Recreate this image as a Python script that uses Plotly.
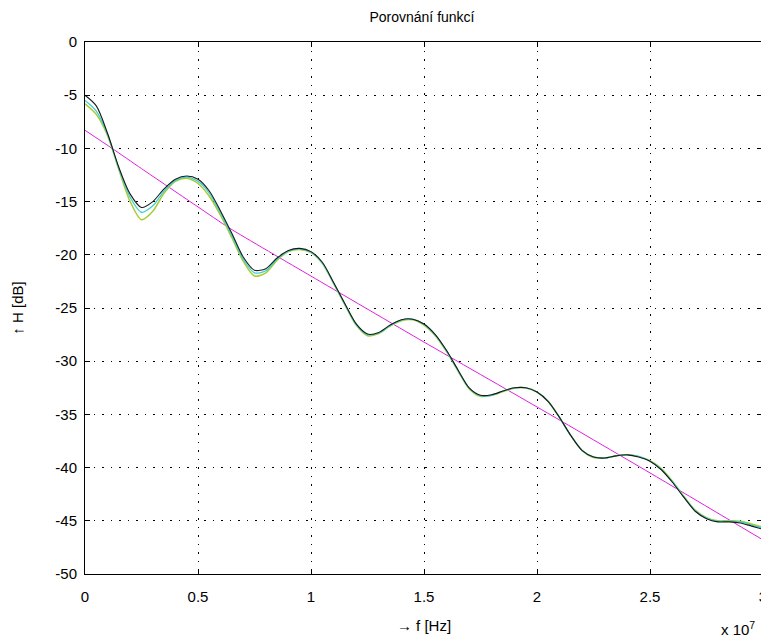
import plotly.graph_objects as go

# frequency in units of 1e7 Hz
f_units = [0.00, 0.05, 0.10, 0.15, 0.20, 0.25, 0.30, 0.35, 0.40, 0.45,
           0.50, 0.55, 0.60, 0.65, 0.70, 0.75, 0.80, 0.85, 0.90, 0.95,
           1.00, 1.05, 1.10, 1.15, 1.20, 1.25, 1.30, 1.35, 1.40, 1.45,
           1.50, 1.55, 1.60, 1.65, 1.70, 1.75, 1.80, 1.85, 1.90, 1.95,
           2.00, 2.05, 2.10, 2.15, 2.20, 2.25, 2.30, 2.35, 2.40, 2.45,
           2.50, 2.55, 2.60, 2.65, 2.70, 2.75, 2.80, 2.85, 2.90, 2.95, 3.00]

h_black = [-5.0, -6.0, -8.6, -11.8, -14.3, -15.55, -15.0, -13.8, -12.9, -12.6,
           -12.9, -14.0, -15.9, -18.0, -20.2, -21.45, -21.3, -20.3, -19.6, -19.4,
           -19.7, -20.7, -22.6, -24.6, -26.5, -27.45, -27.3, -26.6, -26.1, -26.05,
           -26.5, -27.5, -29.0, -30.8, -32.5, -33.2, -33.15, -32.8, -32.5, -32.5,
           -32.9, -33.8, -35.3, -37.0, -38.4, -39.0, -39.1, -38.9, -38.8, -39.0,
           -39.4, -40.2, -41.4, -42.8, -44.1, -44.8, -45.1, -45.1, -45.2, -45.5, -45.8]

h_green = [-5.8, -6.8, -8.8, -12.0, -15.0, -16.7, -15.9, -14.2, -13.1, -12.8,
           -13.3, -14.5, -16.3, -18.4, -20.6, -22.0, -21.7, -20.5, -19.7, -19.5,
           -19.8, -20.8, -22.7, -24.7, -26.6, -27.6, -27.4, -26.7, -26.2, -26.1,
           -26.6, -27.6, -29.1, -30.9, -32.6, -33.3, -33.2, -32.85, -32.55, -32.5,
           -32.9, -33.8, -35.3, -37.0, -38.4, -39.05, -39.1, -38.9, -38.8, -38.95,
           -39.35, -40.1, -41.3, -42.7, -44.0, -44.7, -45.0, -45.0, -45.05, -45.3, -45.6]

h_cyan = [-5.5, -6.5, -8.7, -11.9, -14.6, -16.0, -15.4, -14.0, -13.0, -12.7,
          -13.1, -14.2, -16.1, -18.2, -20.4, -21.7, -21.5, -20.4, -19.65, -19.45,
          -19.75, -20.75, -22.65, -24.65, -26.55, -27.5, -27.35, -26.65, -26.15, -26.05,
          -26.55, -27.55, -29.05, -30.85, -32.55, -33.25, -33.2, -32.8, -32.5, -32.5,
          -32.9, -33.8, -35.3, -37.0, -38.4, -39.0, -39.1, -38.9, -38.8, -38.95,
          -39.4, -40.15, -41.35, -42.75, -44.05, -44.75, -45.05, -45.05, -45.1, -45.4, -45.7]

fit_units = [0.0, 0.12, 0.25, 0.5, 0.64, 1.0, 1.5, 2.0, 2.5, 3.0]
h_fit = [-8.3, -10.0, -11.9, -15.5, -17.5, -22.0, -28.2, -34.3, -40.5, -46.8]

x_tickvals = [0, 0.5, 1, 1.5, 2, 2.5, 3]
x_ticktext = ["0", "0.5", "1", "1.5", "2", "2.5", "3"]
y_tickvals = [0, -5, -10, -15, -20, -25, -30, -35, -40, -45, -50]
y_ticktext = ["0", "-5", "-10", "-15", "-20", "-25", "-30", "-35", "-40", "-45", "-50"]

SCALE = 1e7
f_hz = [v * SCALE for v in f_units]
fit_hz = [v * SCALE for v in fit_units]

fig = go.Figure()
fig.add_trace(go.Scatter(x=fit_hz, y=h_fit, mode="lines", line=dict(color="#e020e0", width=1, shape="spline", smoothing=0.6), showlegend=False))
fig.add_trace(go.Scatter(x=f_hz, y=h_green, mode="lines", line=dict(color="#a8cc30", width=1.5, shape="spline", smoothing=0.8), showlegend=False))
fig.add_trace(go.Scatter(x=f_hz, y=h_cyan, mode="lines", line=dict(color="#40d0d0", width=1.3, shape="spline", smoothing=0.8), showlegend=False))
fig.add_trace(go.Scatter(x=f_hz, y=h_black, mode="lines", line=dict(color="#1a1a1a", width=1.1, shape="spline", smoothing=0.8), showlegend=False))

font = "Liberation Sans, Arial, sans-serif"
grid_dash = "1.5px,7px"
# page body adds an 8px margin, so the figure is sized to fit the window
fig.update_layout(
    width=761, height=633,
    margin=dict(l=77, r=6, t=34, b=67, autoexpand=False),
    paper_bgcolor="white", plot_bgcolor="white",
    font=dict(family=font, size=15, color="black"),
    title=dict(text="Porovnání funkcí", x=0.544, xanchor="center", xref="container",
               y=0.986, yanchor="middle", yref="container",
               font=dict(size=14, family=font), automargin=False),
    showlegend=False,
)
fig.update_xaxes(
    range=[0, 3 * SCALE], tickvals=[v * SCALE for v in x_tickvals], ticktext=x_ticktext,
    showline=True, linecolor="black", linewidth=1, mirror="ticks",
    ticks="inside", ticklen=5, tickcolor="black", ticklabelstandoff=9,
    ticklabeloverflow="allow",
    showgrid=True, gridcolor="black", griddash=grid_dash, gridwidth=1,
    zeroline=False, automargin=False,
    title=dict(text="→ f [Hz]", font=dict(size=15), standoff=16),
)
fig.update_yaxes(
    range=[-50, 0], tickvals=y_tickvals, ticktext=y_ticktext,
    showline=True, linecolor="black", linewidth=1, mirror="ticks",
    ticks="inside", ticklen=5, tickcolor="black", ticklabelstandoff=4,
    ticklabeloverflow="allow",
    showgrid=True, gridcolor="black", griddash=grid_dash, gridwidth=1,
    zeroline=False, automargin=False,
    title=dict(text="↑ H [dB]", font=dict(size=15), standoff=28),
)
fig.add_annotation(text="x 10<sup>7</sup>", xref="paper", yref="paper", x=0.991, y=-0.124,
                   xanchor="right", yanchor="bottom", showarrow=False, font=dict(size=15))
fig.write_html("out.html")
